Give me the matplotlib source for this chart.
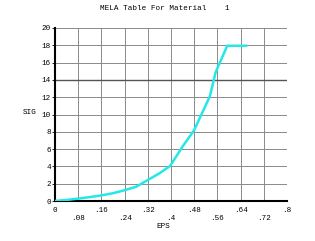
import matplotlib
matplotlib.use("Agg")
import matplotlib.pyplot as plt

eps = [0.0, 0.04, 0.08, 0.12, 0.16, 0.20, 0.24, 0.28, 0.316, 0.36, 0.397, 0.44, 0.48, 0.534, 0.554, 0.594, 0.659]
sig = [0.0, 0.12, 0.28, 0.45, 0.65, 0.9, 1.25, 1.65, 2.35, 3.2, 4.05, 6.3, 8.2, 12.1, 14.9, 17.95, 17.95]
xticks = [0, 0.08, 0.16, 0.24, 0.32, 0.4, 0.48, 0.56, 0.64, 0.72, 0.8]
xticklabels = ["0", ".08", ".16", ".24", ".32", ".4", ".48", ".56", ".64", ".72", ".8"]
yticks = [0, 2, 4, 6, 8, 10, 12, 14, 16, 18, 20]

font = "Liberation Mono"
W, H = 315, 241
fig = plt.figure(figsize=(W/100, H/100), dpi=100)
ax = fig.add_axes([55/W, 40/H, 232/W, 173/H])
ax.set_xlim(0, 0.8)
ax.set_ylim(0, 20)

for xv in xticks[1:]:
    ax.axvline(xv, color="#8a8a8a", lw=0.7, zorder=1)
for yv in yticks[1:]:
    ax.axhline(yv, color="#555555" if yv == 14 else "#8a8a8a", lw=1.0 if yv == 14 else 0.7, zorder=1)

ax.plot(eps, sig, color="#22e8e8", lw=1.8, zorder=3, solid_joinstyle="round")

for s in ["top", "right"]:
    ax.spines[s].set_visible(False)
ax.spines["left"].set_linewidth(1.5)
ax.spines["bottom"].set_linewidth(1.5)

ax.set_yticks(yticks)
ax.set_yticklabels([str(v) for v in yticks], fontfamily=font, fontsize=5.5)
ax.tick_params(axis="y", length=2, width=0.6, pad=1)
ax.set_xticks(xticks)
ax.set_xticklabels([])
ax.tick_params(axis="x", length=0)

for i, (xv, lab) in enumerate(zip(xticks, xticklabels)):
    ypix = 211 if i % 2 == 0 else 219
    yoff = (201 - ypix) / 173
    ax.text(xv, yoff, lab, transform=ax.get_xaxis_transform(),
            ha="center", va="center", fontfamily=font, fontsize=5.5, clip_on=False)

fig.text(163/W, 1 - 226/H, "EPS", ha="center", va="center", fontfamily=font, fontsize=5.5)
fig.text(30/W, 1 - 112/H, "SIG", ha="center", va="center", fontfamily=font, fontsize=5.5)
fig.text(165/W, 1 - 9/H, "MELA Table For Material    1", ha="center", va="center",
         fontfamily=font, fontsize=5.5)

fig.savefig("out.png", dpi=100)
